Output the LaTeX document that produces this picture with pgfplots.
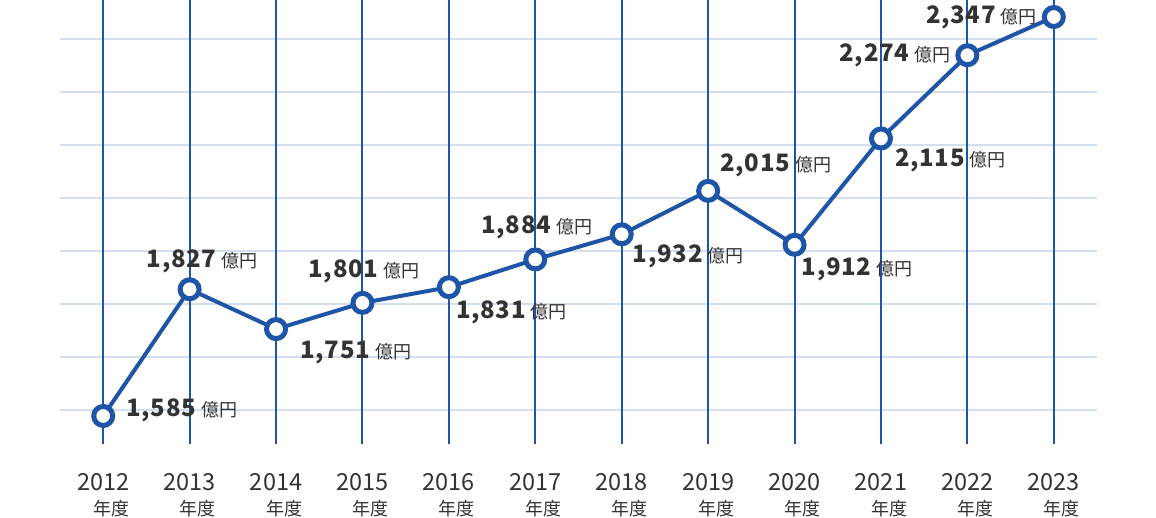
\documentclass[border=0pt]{standalone}
\usepackage{pgfplots}
\pgfplotsset{compat=1.18}
\usepackage{fontspec}
\setmainfont{Noto Sans CJK JP}

\definecolor{lineblue}{HTML}{1F55A8}
\definecolor{gridblue}{HTML}{D3DEEF}
\definecolor{txt}{HTML}{333333}

\newcommand\lbl[1]{{\fontsize{24}{24}\selectfont\bfseries\addfontfeatures{LetterSpace=3}#1}\hspace{5pt}{\fontsize{18}{18}\selectfont 億円}}
\newcommand\yr[1]{#1\\{\fontsize{18}{18}\selectfont 年度}}

\begin{document}
\begin{tikzpicture}[x=1pt,y=1pt]
\useasboundingbox (0,0) rectangle (1156,518);
\begin{axis}[
  at={(60pt,74pt)}, anchor=south west,
  scale only axis, width=1037pt, height=444pt,
  xmin=2011.5, xmax=2023.5, ymin=1531.5, ymax=2379.5,
  axis line style={draw=none},
  major tick length=0pt,
  xtick={2012,2013,2014,2015,2016,2017,2018,2019,2020,2021,2022,2023},
  xticklabels={\yr{2012},\yr{2013},\yr{2014},\yr{2015},\yr{2016},\yr{2017},
               \yr{2018},\yr{2019},\yr{2020},\yr{2021},\yr{2022},\yr{2023}},
  xticklabel style={align=right, text=txt, font=\fontsize{23.5}{25}\selectfont,
                    anchor=north, yshift=-26pt},
  ytick={1596,1697,1799,1900,2001,2102,2203,2305},
  yticklabels={},
  ymajorgrids, y grid style={gridblue, line width=2pt},
  clip=false,
]
\pgfplotsinvokeforeach{2012,2013,2014,2015,2016,2017,2018,2019,2020,2021,2022,2023}{
  \draw[lineblue, line width=2pt] (axis cs:#1,1531.5) -- (axis cs:#1,2379.5);
}
\addplot[lineblue, line width=4pt, mark=*,
  mark options={fill=white, draw=lineblue, line width=5pt}, mark size=9.5pt]
  coordinates {
  (2012,1585) (2013,1827) (2014,1751) (2015,1801) (2016,1831) (2017,1884)
  (2018,1932) (2019,2015) (2020,1912) (2021,2115) (2022,2274) (2023,2347)
};
\begin{scope}[every node/.style={anchor=west, inner sep=0pt, text=txt}]
\node at (axis cs:2012,1585) [xshift=23pt, yshift=6pt] {\lbl{1,585}};
\node at (axis cs:2013,1827) [xshift=-43pt, yshift=28pt] {\lbl{1,827}};
\node at (axis cs:2014,1751) [xshift=24pt, yshift=-23pt] {\lbl{1,751}};
\node at (axis cs:2015,1801) [xshift=-54pt, yshift=32pt] {\lbl{1,801}};
\node at (axis cs:2016,1831) [xshift=7pt, yshift=-25pt] {\lbl{1,831}};
\node at (axis cs:2017,1884) [xshift=-54pt, yshift=32pt] {\lbl{1,884}};
\node at (axis cs:2018,1932) [xshift=11pt, yshift=-22pt] {\lbl{1,932}};
\node at (axis cs:2019,2015) [xshift=12pt, yshift=25pt] {\lbl{2,015}};
\node at (axis cs:2020,1912) [xshift=7pt, yshift=-25pt] {\lbl{1,912}};
\node at (axis cs:2021,2115) [xshift=14pt, yshift=-22pt] {\lbl{2,115}};
\node at (axis cs:2022,2274) [xshift=-128pt, yshift=0pt] {\lbl{2,274}};
\node at (axis cs:2023,2347) [xshift=-128pt, yshift=0pt] {\lbl{2,347}};
\end{scope}
\end{axis}
\end{tikzpicture}
\end{document}
